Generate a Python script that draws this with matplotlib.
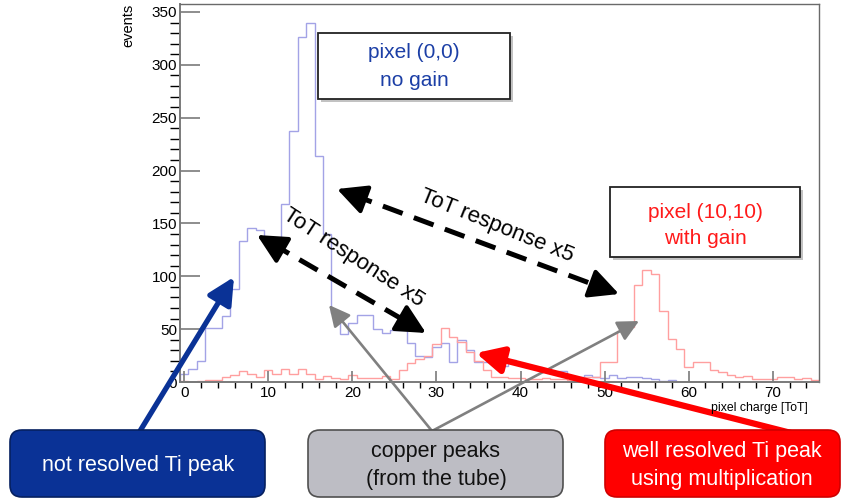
import numpy as np
import matplotlib
matplotlib.use('Agg')
import matplotlib.pyplot as plt
from matplotlib.patches import Rectangle, FancyBboxPatch
from matplotlib.transforms import IdentityTransform
from matplotlib.lines import Line2D

plt.rcParams['font.family'] = ['Liberation Sans', 'DejaVu Sans']

# ---------------- data ----------------
bin_edges = np.arange(-0.5, 76.5, 1.0)
pixel00_no_gain = [8, 12, 20, 51, 51, 62, 88, 133, 146, 144, 136, 135, 168, 237, 326, 340,
                   214, 140, 65, 45, 56, 63, 63, 50, 46, 49, 49, 37, 25, 24, 33, 37,
                   19, 40, 30, 19, 19, 19, 15, 21, 18, 14, 14, 10, 9, 10, 6, 5,
                   7, 5, 4, 7, 4, 5, 5, 4, 3, 1, 2, 0, 0, 0, 0, 0,
                   0, 0, 0, 0, 0, 0, 0, 0, 0, 0, 0, 0]
pixel1010_gain = [1, 0, 1, 2, 2, 5, 7, 10, 8, 5, 11, 8, 12, 8, 12, 8,
                  3, 6, 4, 3, 7, 4, 4, 4, 6, 3, 11, 18, 22, 25, 36, 51,
                  43, 38, 28, 20, 11, 5, 5, 4, 4, 3, 3, 4, 3, 3, 2, 4,
                  5, 5, 19, 19, 48, 52, 92, 106, 102, 67, 41, 31, 14, 19,
                  19, 11, 9, 7, 5, 6, 3, 3, 3, 5, 5, 3, 4, 2]
x_ticks = [0, 10, 20, 30, 40, 50, 60, 70]
y_ticks = [0, 50, 100, 150, 200, 250, 300, 350]

W, H = 852, 501
fig = plt.figure(figsize=(W / 100, H / 100), dpi=100)
fig.patch.set_facecolor('white')

ax = fig.add_axes([180 / W, (H - 382) / H, (819 - 180) / W, (382 - 4) / H])
ax.stairs(pixel00_no_gain, bin_edges, color='#a3a3e6', lw=1.0)
ax.stairs(pixel1010_gain, bin_edges, color='#ff9f9f', lw=1.0)
ax.set_xlim(-0.5, 75.5)
ax.set_ylim(0, 357.5)

ax.set_xticks(x_ticks)
ax.set_xticks(np.arange(0, 76, 2), minor=True)
ax.set_yticks(y_ticks)
ax.set_yticks(np.arange(0, 358, 10), minor=True)
ax.tick_params(axis='both', direction='in', colors='#7a7a7a', labelcolor='black',
               labelsize=11, width=1.2)
ax.tick_params(axis='y', which='major', length=14.4, pad=2)
ax.tick_params(axis='y', which='minor', length=7.2, width=1.0)
ax.tick_params(axis='x', which='major', length=7.9, pad=3)
ax.tick_params(axis='x', which='minor', length=4.0, width=1.0)
for side in ['left', 'bottom']:
    ax.spines[side].set_color('#7a7a7a')
    ax.spines[side].set_linewidth(1.4)
for side in ['top', 'right']:
    ax.spines[side].set_color('#6a6a6a')
    ax.spines[side].set_linewidth(1.0)

fig.text(808 / W, (H - 408) / H, 'pixel charge [ToT]', ha='right', va='center', fontsize=8.8)
fig.text(128 / W, (H - 4) / H, 'events', rotation=90, ha='center', va='top', fontsize=10.5)

ident = IdentityTransform()

def fp(x, y):
    return (x, H - y)

# ---------- white label boxes with shadow ----------
def shadow_box(x0, y0, x1, y1):
    fig.add_artist(Rectangle((x0 + 3, H - y1 - 3), x1 - x0, y1 - y0, transform=ident,
                             facecolor='#9a9a9a', edgecolor='none', alpha=0.6, zorder=5))
    fig.add_artist(Rectangle((x0, H - y1), x1 - x0, y1 - y0, transform=ident,
                             facecolor='white', edgecolor='#222222', lw=1.3, zorder=6))

shadow_box(318, 33, 510, 99)
fig.text(414 / W, (H - 53) / H, 'pixel (0,0)', color='#1c3fa6', fontsize=15,
         ha='center', va='center', zorder=7)
fig.text(414 / W, (H - 80) / H, 'no gain', color='#1c3fa6', fontsize=15,
         ha='center', va='center', zorder=7)

shadow_box(610, 187, 800, 257)
fig.text(705 / W, (H - 213) / H, 'pixel (10,10)', color='#ff1a1a', fontsize=15,
         ha='center', va='center', zorder=7)
fig.text(705 / W, (H - 239) / H, 'with gain', color='#ff1a1a', fontsize=15,
         ha='center', va='center', zorder=7)

# ---------- dashed double arrows ----------
def dashed_double_arrow(p0, p1):
    p0 = np.array(p0, float); p1 = np.array(p1, float)
    d = (p1 - p0) / np.linalg.norm(p1 - p0)
    a = p0 + d * 16
    b = p1 - d * 16
    fig.add_artist(Line2D([a[0], b[0]], [H - a[1], H - b[1]], transform=ident,
                          color='black', lw=3.6, dashes=(4.2, 2.4), zorder=8))
    for tip, back in [(p0, p0 + d * 20), (p1, p1 - d * 20)]:
        ax.annotate('', xy=fp(*tip), xytext=fp(*back), xycoords='figure pixels',
                    textcoords='figure pixels', annotation_clip=False,
                    arrowprops=dict(arrowstyle='-|>,head_length=0.9,head_width=0.45',
                                    color='black', lw=3.0, mutation_scale=20,
                                    shrinkA=0, shrinkB=0), zorder=8)

dashed_double_arrow((337, 189), (619, 294))
dashed_double_arrow((257, 235), (426, 333))

fig.text(497 / W, (H - 226) / H, 'ToT response x5', rotation=-22, fontsize=16,
         ha='center', va='center', zorder=8)
fig.text(353 / W, (H - 258) / H, 'ToT response x5', rotation=-33, fontsize=16,
         ha='center', va='center', zorder=8)

# ---------- bottom rounded boxes ----------
def round_box(x0, y0, x1, y1, fc, ec):
    fig.add_artist(FancyBboxPatch((x0, H - y1), x1 - x0, y1 - y0,
                                  boxstyle='round,pad=0,rounding_size=12',
                                  transform=ident, facecolor=fc, edgecolor=ec,
                                  lw=1.2, zorder=9))

round_box(10, 430, 265, 497, '#0a3296', '#062060')
fig.text(138 / W, (H - 466) / H, 'not resolved Ti peak', color='white', fontsize=15.5,
         ha='center', va='center', zorder=10)
round_box(308, 430, 563, 497, '#bdbdc4', '#505050')
fig.text(436 / W, (H - 452) / H, 'copper peaks', color='#111111', fontsize=15.5,
         ha='center', va='center', zorder=10)
fig.text(436 / W, (H - 479) / H, '(from the tube)', color='#111111', fontsize=15.5,
         ha='center', va='center', zorder=10)
round_box(605, 430, 840, 497, '#ff0000', '#d00000')
fig.text(722 / W, (H - 452) / H, 'well resolved Ti peak', color='white', fontsize=15.5,
         ha='center', va='center', zorder=10)
fig.text(722 / W, (H - 479) / H, 'using multiplication', color='white', fontsize=15.5,
         ha='center', va='center', zorder=10)

# ---------- pointer arrows ----------
def pointer(tail, tip, color, lw, scale):
    ax.annotate('', xy=fp(*tip), xytext=fp(*tail), xycoords='figure pixels',
                textcoords='figure pixels', annotation_clip=False,
                arrowprops=dict(arrowstyle='-|>,head_length=0.8,head_width=0.4',
                                color=color, lw=lw, mutation_scale=scale,
                                shrinkA=0, shrinkB=0), zorder=8)

pointer((140, 431), (234, 277), '#0a3296', 3.8, 20)
pointer((432, 431), (329, 305), '#808080', 1.9, 16)
pointer((432, 431), (639, 321), '#808080', 1.9, 16)
pointer((795, 434), (476, 353), '#ff0000', 4.5, 20)

fig.savefig('out.png', dpi=100)
